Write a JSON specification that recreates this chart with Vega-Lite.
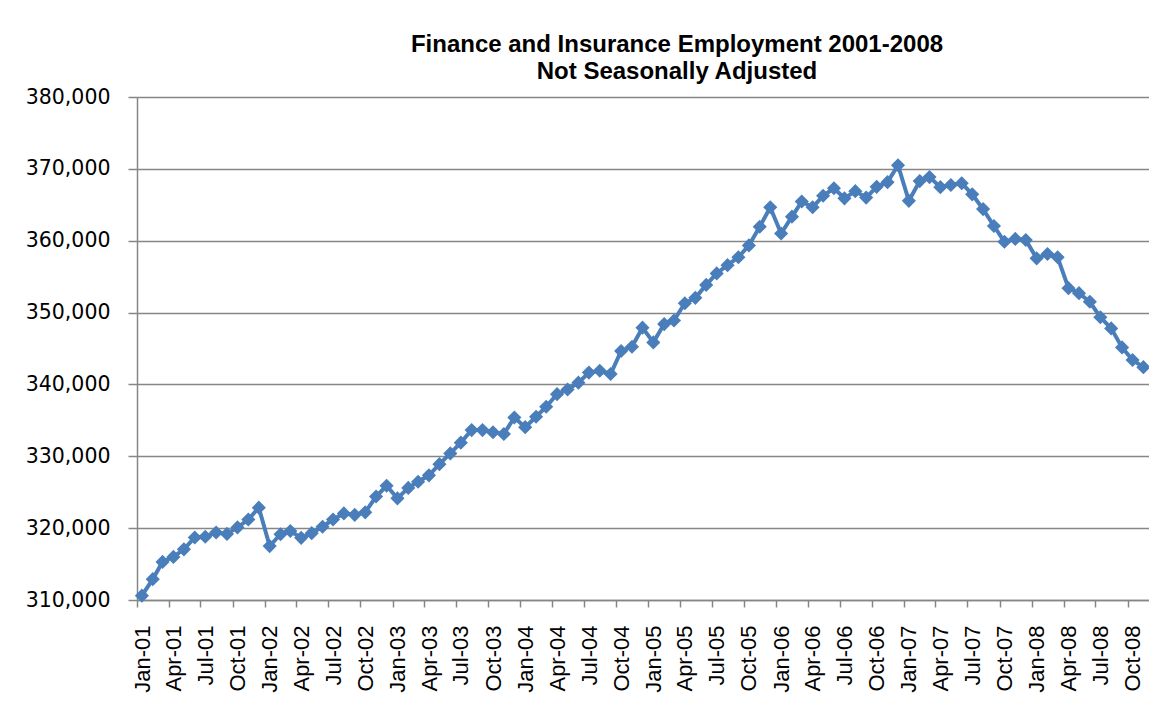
{
  "$schema": "https://vega.github.io/schema/vega-lite/v6.json",
  "width": 1012,
  "height": 503,
  "autosize": {"type": "none"},
  "padding": {"left": 137, "top": 97, "right": 0, "bottom": 125},
  "background": "white",
  "title": {
    "text": ["Finance and Insurance Employment 2001-2008", "Not Seasonally Adjusted"],
    "font": "Liberation Sans",
    "fontSize": 24,
    "fontWeight": "bold",
    "color": "black",
    "anchor": "middle",
    "dx": 34,
    "lineHeight": 27,
    "baseline": "bottom",
    "offset": -21
  },
  "data": {
    "values": [
      {"month": "2001/01/15", "employment": 310600},
      {"month": "2001/02/15", "employment": 312900},
      {"month": "2001/03/15", "employment": 315300},
      {"month": "2001/04/15", "employment": 316000},
      {"month": "2001/05/15", "employment": 317050},
      {"month": "2001/06/15", "employment": 318700},
      {"month": "2001/07/15", "employment": 318800},
      {"month": "2001/08/15", "employment": 319400},
      {"month": "2001/09/15", "employment": 319200},
      {"month": "2001/10/15", "employment": 320100},
      {"month": "2001/11/15", "employment": 321200},
      {"month": "2001/12/15", "employment": 322850},
      {"month": "2002/01/15", "employment": 317500},
      {"month": "2002/02/15", "employment": 319150},
      {"month": "2002/03/15", "employment": 319600},
      {"month": "2002/04/15", "employment": 318650},
      {"month": "2002/05/15", "employment": 319300},
      {"month": "2002/06/15", "employment": 320200},
      {"month": "2002/07/15", "employment": 321200},
      {"month": "2002/08/15", "employment": 322050},
      {"month": "2002/09/15", "employment": 321850},
      {"month": "2002/10/15", "employment": 322200},
      {"month": "2002/11/15", "employment": 324400},
      {"month": "2002/12/15", "employment": 325900},
      {"month": "2003/01/15", "employment": 324150},
      {"month": "2003/02/15", "employment": 325600},
      {"month": "2003/03/15", "employment": 326450},
      {"month": "2003/04/15", "employment": 327350},
      {"month": "2003/05/15", "employment": 328900},
      {"month": "2003/06/15", "employment": 330400},
      {"month": "2003/07/15", "employment": 331900},
      {"month": "2003/08/15", "employment": 333650},
      {"month": "2003/09/15", "employment": 333650},
      {"month": "2003/10/15", "employment": 333350},
      {"month": "2003/11/15", "employment": 333100},
      {"month": "2003/12/15", "employment": 335400},
      {"month": "2004/01/15", "employment": 334050},
      {"month": "2004/02/15", "employment": 335500},
      {"month": "2004/03/15", "employment": 336900},
      {"month": "2004/04/15", "employment": 338650},
      {"month": "2004/05/15", "employment": 339300},
      {"month": "2004/06/15", "employment": 340250},
      {"month": "2004/07/15", "employment": 341650},
      {"month": "2004/08/15", "employment": 341900},
      {"month": "2004/09/15", "employment": 341450},
      {"month": "2004/10/15", "employment": 344650},
      {"month": "2004/11/15", "employment": 345250},
      {"month": "2004/12/15", "employment": 347900},
      {"month": "2005/01/15", "employment": 345850},
      {"month": "2005/02/15", "employment": 348400},
      {"month": "2005/03/15", "employment": 348900},
      {"month": "2005/04/15", "employment": 351300},
      {"month": "2005/05/15", "employment": 352050},
      {"month": "2005/06/15", "employment": 353850},
      {"month": "2005/07/15", "employment": 355450},
      {"month": "2005/08/15", "employment": 356600},
      {"month": "2005/09/15", "employment": 357700},
      {"month": "2005/10/15", "employment": 359350},
      {"month": "2005/11/15", "employment": 361950},
      {"month": "2005/12/15", "employment": 364650},
      {"month": "2006/01/15", "employment": 361000},
      {"month": "2006/02/15", "employment": 363350},
      {"month": "2006/03/15", "employment": 365450},
      {"month": "2006/04/15", "employment": 364650},
      {"month": "2006/05/15", "employment": 366250},
      {"month": "2006/06/15", "employment": 367300},
      {"month": "2006/07/15", "employment": 365900},
      {"month": "2006/08/15", "employment": 366900},
      {"month": "2006/09/15", "employment": 366000},
      {"month": "2006/10/15", "employment": 367500},
      {"month": "2006/11/15", "employment": 368150},
      {"month": "2006/12/15", "employment": 370500},
      {"month": "2007/01/15", "employment": 365550},
      {"month": "2007/02/15", "employment": 368300},
      {"month": "2007/03/15", "employment": 368850},
      {"month": "2007/04/15", "employment": 367450},
      {"month": "2007/05/15", "employment": 367750},
      {"month": "2007/06/15", "employment": 368000},
      {"month": "2007/07/15", "employment": 366450},
      {"month": "2007/08/15", "employment": 364400},
      {"month": "2007/09/15", "employment": 362050},
      {"month": "2007/10/15", "employment": 359850},
      {"month": "2007/11/15", "employment": 360250},
      {"month": "2007/12/15", "employment": 360100},
      {"month": "2008/01/15", "employment": 357550},
      {"month": "2008/02/15", "employment": 358150},
      {"month": "2008/03/15", "employment": 357700},
      {"month": "2008/04/15", "employment": 353400},
      {"month": "2008/05/15", "employment": 352700},
      {"month": "2008/06/15", "employment": 351500},
      {"month": "2008/07/15", "employment": 349350},
      {"month": "2008/08/15", "employment": 347800},
      {"month": "2008/09/15", "employment": 345150},
      {"month": "2008/10/15", "employment": 343400},
      {"month": "2008/11/15", "employment": 342400}
    ]
  },
  "mark": {
    "type": "line",
    "color": "#4A7EBB",
    "strokeWidth": 4,
    "point": {"shape": "diamond", "size": 200, "filled": true, "color": "#4A7EBB", "opacity": 1}
  },
  "encoding": {
    "x": {
      "field": "month",
      "type": "temporal",
      "scale": {
        "domain": [{"year": 2001, "month": 1, "date": 1}, {"year": 2008, "month": 12, "date": 1}],
        "nice": false
      },
      "axis": {
        "title": null,
        "format": "%b-%y",
        "tickCount": {"interval": "month", "step": 3},
        "labelAngle": 270,
        "labelFont": "Liberation Sans",
        "labelFontSize": 22,
        "labelColor": "black",
        "labelPadding": 18,
        "labelOffset": 5,
        "labelOverlap": false,
        "labelBound": false,
        "labelFlush": false,
        "tickSize": 7,
        "tickColor": "#868686",
        "tickWidth": 1.5,
        "domainColor": "#868686",
        "domainWidth": 1.5,
        "grid": false
      }
    },
    "y": {
      "field": "employment",
      "type": "quantitative",
      "scale": {"domain": [310000, 380000], "nice": false, "zero": false},
      "axis": {
        "title": null,
        "values": [310000, 320000, 330000, 340000, 350000, 360000, 370000, 380000],
        "format": ",.0f",
        "labelFont": "DejaVu Sans",
        "labelFontSize": 20.5,
        "labelColor": "black",
        "labelPadding": 18,
        "tickSize": 9,
        "tickColor": "#868686",
        "tickWidth": 1.5,
        "domainColor": "#868686",
        "domainWidth": 1.5,
        "grid": true,
        "gridColor": "#868686",
        "gridWidth": 1.5
      }
    }
  },
  "config": {"view": {"stroke": null}}
}
